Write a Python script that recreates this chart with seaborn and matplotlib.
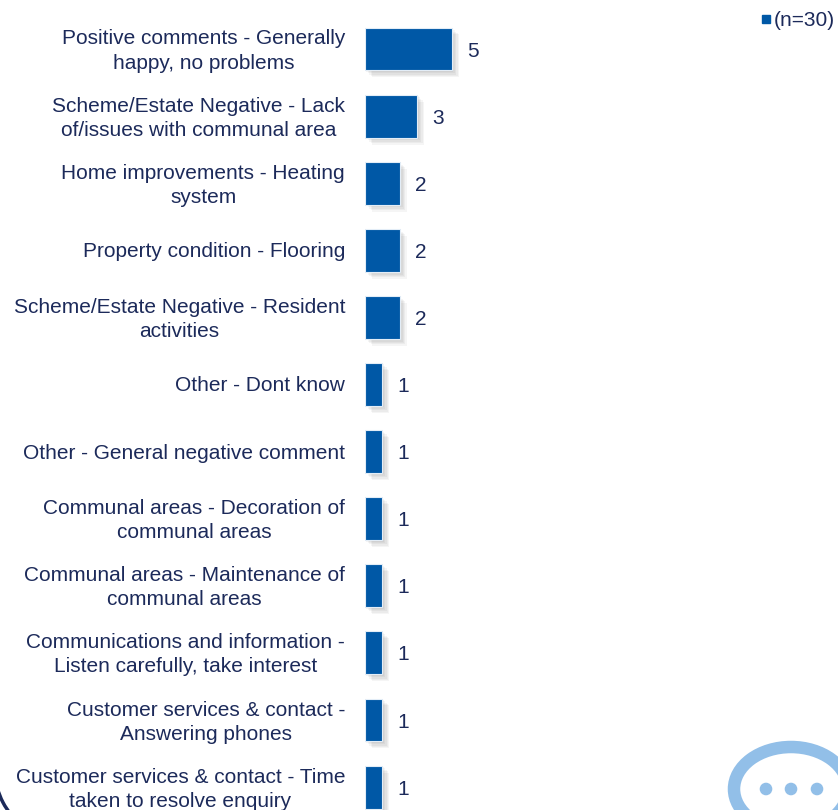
import matplotlib
matplotlib.use("Agg")
import matplotlib.pyplot as plt
import matplotlib.patheffects as pe
from matplotlib.lines import Line2D
from matplotlib.patches import Ellipse, Circle, Arc
from matplotlib.transforms import ScaledTranslation
import pandas as pd
import seaborn as sns

categories = [
    "Positive comments - Generally\nhappy, no problems",
    "Scheme/Estate Negative - Lack\nof/issues with communal area",
    "Home improvements - Heating\nsystem",
    "Property condition - Flooring",
    "Scheme/Estate Negative - Resident\nactivities",
    "Other - Dont know",
    "Other - General negative comment",
    "Communal areas - Decoration of\ncommunal areas",
    "Communal areas - Maintenance of\ncommunal areas",
    "Communications and information -\nListen carefully, take interest",
    "Customer services & contact -\nAnswering phones",
    "Customer services & contact - Time\ntaken to resolve enquiry",
]
values = [5, 3, 2, 2, 2, 1, 1, 1, 1, 1, 1, 1]
series_name = "(n=30)"

BLUE = "#0058A6"
NAVY = "#1C2A5A"
LIGHT = "#92BFE8"
W, H = 838, 810
FS = 15.05

sns.set_theme(style="white")
plt.rcParams["font.family"] = ["Liberation Sans", "DejaVu Sans"]

df = pd.DataFrame({"cat": categories, "val": values, "series": series_name})

fig = plt.figure(figsize=(W / 100, H / 100), dpi=100)
ax = fig.add_axes([365 / W, 0, 1 - 365 / W, 1 - 15.45 / H])
ax.patch.set_alpha(0)

sns.barplot(data=df, y="cat", x="val", hue="series", palette=[BLUE], dodge=False,
            saturation=1, width=0.64, ax=ax, legend=False,
            edgecolor="#E3EDF7", linewidth=0.8)

# soft drop shadow on the bars
shadow = [pe.SimplePatchShadow(offset=(o, -o), shadow_rgbFace="#000000", alpha=0.04)
          for o in (5, 4, 3, 2, 1)]
for bar in ax.patches:
    bar.set_path_effects(shadow + [pe.Normal()])

ax.set_xlim(0, 473 / 17.4)
ax.set_ylim((810 - 49) / 67.1, -0.5)
ax.set_xlabel("")
ax.set_ylabel("")
ax.set_xticks([])
ax.tick_params(axis="y", length=0, pad=14.4, labelsize=FS, labelcolor=NAVY)
# nudge the labels up a little, the bottom one has to fit
for lab in ax.get_yticklabels():
    up = 2.5 if "\n" in lab.get_text() else 0.5
    lab.set_multialignment("center")
    lab.set_linespacing(1.34)
    lab.set_transform(lab.get_transform() + ScaledTranslation(0, up / 100, fig.dpi_scale_trans))
for s in ax.spines.values():
    s.set_visible(False)

for cont in ax.containers:
    for t in ax.bar_label(cont, padding=11, fontsize=FS, color=NAVY):
        t.xyann = (t.xyann[0], -1.5)

# legend top right
handle = Line2D([], [], marker="s", linestyle="", markersize=6, color=BLUE)
fig.legend([handle], [series_name], loc="upper right",
           bbox_to_anchor=(835 / W, 1 - 11 / H),
           frameon=False, fontsize=FS, labelcolor=NAVY, handlelength=0.4,
           handletextpad=0.2, borderaxespad=0, borderpad=0)

# slide decoration, in pixel coordinates
deco = fig.add_axes([0, 0, 1, 1], zorder=-1)
deco.set_xlim(0, W)
deco.set_ylim(H, 0)
deco.axis("off")
deco.add_patch(Ellipse((791, 789), 114, 84, fill=False, edgecolor=LIGHT, linewidth=9))
for cx in [766, 791, 817]:
    deco.add_patch(Circle((cx, 789), 6.3, color=LIGHT, linewidth=0))
deco.add_patch(Arc((65, 770), 140, 140, theta1=140, theta2=165, edgecolor=NAVY, linewidth=2.5))

fig.savefig("out.png", dpi=100)
plt.close(fig)
